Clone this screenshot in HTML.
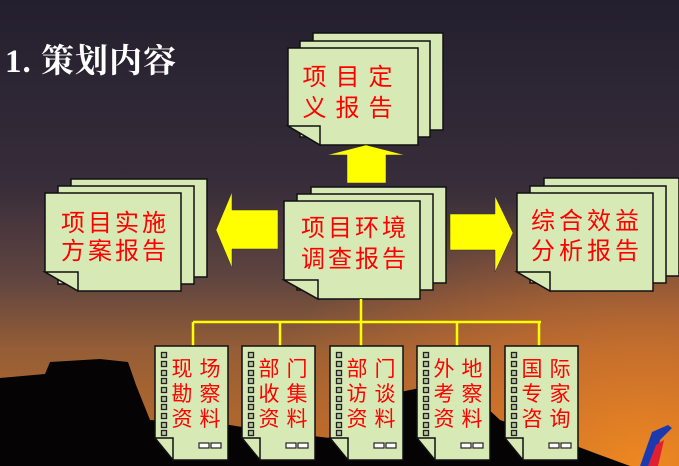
<!DOCTYPE html>
<html><head><meta charset="utf-8"><style>
html,body{margin:0;padding:0;width:679px;height:466px;overflow:hidden;background:#2a2533}
svg{display:block}
text{font-family:"Liberation Sans","Noto Sans CJK SC",sans-serif;fill:#ff0000}
</style></head><body>
<svg width="679" height="466" viewBox="0 0 679 466" xmlns="http://www.w3.org/2000/svg">
<defs>
<linearGradient id="bg" x1="0" y1="0" x2="0" y2="1">
<stop offset="0" stop-color="#231f2e"/>
<stop offset="0.4" stop-color="#382d3a"/>
<stop offset="0.6" stop-color="#604540"/>
<stop offset="0.75" stop-color="#955e36"/>
<stop offset="1" stop-color="#c06c28"/>
</linearGradient>
<radialGradient id="sun" cx="0.95" cy="1" r="0.6">
<stop offset="0" stop-color="#f08a20" stop-opacity="0.95"/>
<stop offset="0.5" stop-color="#d9742a" stop-opacity="0.6"/>
<stop offset="1" stop-color="#d9742a" stop-opacity="0"/>
</radialGradient>
</defs>
<rect width="679" height="466" fill="url(#bg)"/>
<rect width="679" height="466" fill="url(#sun)"/>
<path d="M0,378 L45,374 L50,362 L100,359 L128,362 L136,385 L150,420 L230,425 L260,430 L330,438 L360,410 L400,392 L430,386 L470,392 L500,420 L560,440 L600,455 L630,466 L0,466 Z" fill="#050303"/>
<path d="M640,466 L652,432 L668,425 L672,428 L660,440 L655,466 Z" fill="#1b3ab0"/>
<path d="M648,466 L656,445 L664,440 L658,466 Z" fill="#e02030"/>
<text x="5" y="72" style="font-family:'Liberation Serif','Noto Serif CJK SC',serif;font-weight:bold;font-size:33px;fill:#fff" letter-spacing="1">1. 策划内容</text>

<g stroke="#111" stroke-width="1.5" fill="#d7e9b5">
<rect x="313" y="33" width="130" height="97"/>
<rect x="300" y="41" width="130" height="96"/>
<path d="M288,48 H418 V145 H320 L288,126 Z"/><path d="M288,126 H320 V145 Z"/>
<rect x="311" y="187" width="135" height="96"/>
<rect x="297" y="194" width="136" height="96"/>
<path d="M284,201 H420 V299 H318 L284,280 Z"/><path d="M284,280 H318 V299 Z"/>
<rect x="71" y="179" width="136" height="98"/>
<rect x="58" y="186" width="136" height="98"/>
<path d="M45,193 H181 V291 H78 L45,272 Z"/><path d="M45,272 H78 V291 Z"/>
<rect x="544" y="178" width="135" height="98"/>
<rect x="530" y="186" width="136" height="97"/>
<path d="M517,193 H653 V291 H550 L517,272 Z"/><path d="M517,272 H550 V291 Z"/>
</g>

<g fill="#ffff00" stroke="#333" stroke-width="0.5">
<path d="M347,183 V155 H327 L366,145 L405,155 H386 V183 Z"/>
<path d="M278,210 V249 H232 V268 L216,230 L232,192 V210 Z"/>
<path d="M450,214 H495 V196 L513,233 L495,272 V250 H450 Z"/>
</g>

<g font-size="24">
<text x="352" y="85" text-anchor="middle" letter-spacing="9">项目定</text>
<text x="352" y="116" text-anchor="middle" letter-spacing="9">义报告</text>
<text x="355" y="236" text-anchor="middle" letter-spacing="3">项目环境</text>
<text x="355" y="267" text-anchor="middle" letter-spacing="3">调查报告</text>
<text x="115" y="231" text-anchor="middle" letter-spacing="3">项目实施</text>
<text x="115" y="259" text-anchor="middle" letter-spacing="3">方案报告</text>
<text x="587" y="229" text-anchor="middle" letter-spacing="4">综合效益</text>
<text x="587" y="259" text-anchor="middle" letter-spacing="4">分析报告</text>
</g>

<g stroke="#ffff00" stroke-width="2.5" fill="none">
<path d="M361,299 V322 M193,322 H541 M193,322 V346 M280,322 V346 M361,322 V346 M457,322 V346 M539,322 V346"/>
</g>

<g id="bd">
<g stroke="#111" stroke-width="1.5" fill="#d7e9b5">
<path d="M155,346 H228 V460 H173 L155,438 Z"/><path d="M155,438 H173 V460 Z"/>
</g>
<g fill="#fff" stroke="#222" stroke-width="1.2">
<rect x="199" y="443" width="10" height="5"/><rect x="211" y="443" width="10" height="5"/>
</g>
<g fill="#b8c8a0" stroke="#222" stroke-width="1.3">
<rect x="161.5" y="352.5" width="5" height="5"/><rect x="161.5" y="361.5" width="5" height="5"/><rect x="161.5" y="370.5" width="5" height="5"/><rect x="161.5" y="378.5" width="5" height="5"/><rect x="161.5" y="387.5" width="5" height="5"/><rect x="161.5" y="396.5" width="5" height="5"/><rect x="161.5" y="404.5" width="5" height="5"/><rect x="161.5" y="413.5" width="5" height="5"/><rect x="161.5" y="422.5" width="5" height="5"/><rect x="161.5" y="430.5" width="5" height="5"/>
</g>
</g>
<use href="#bd" x="87"/>
<use href="#bd" x="175"/>
<use href="#bd" x="262"/>
<use href="#bd" x="350"/>

<g font-size="21" text-anchor="middle">
<text x="182" y="376">现</text><text x="210" y="376">场</text>
<text x="182" y="401">勘</text><text x="210" y="401">察</text>
<text x="182" y="426">资</text><text x="210" y="426">料</text>
<text x="269" y="376">部</text><text x="297" y="376">门</text>
<text x="269" y="401">收</text><text x="297" y="401">集</text>
<text x="269" y="426">资</text><text x="297" y="426">料</text>
<text x="357" y="376">部</text><text x="385" y="376">门</text>
<text x="357" y="401">访</text><text x="385" y="401">谈</text>
<text x="357" y="426">资</text><text x="385" y="426">料</text>
<text x="444" y="376">外</text><text x="472" y="376">地</text>
<text x="444" y="401">考</text><text x="472" y="401">察</text>
<text x="444" y="426">资</text><text x="472" y="426">料</text>
<text x="532" y="376">国</text><text x="560" y="376">际</text>
<text x="532" y="401">专</text><text x="560" y="401">家</text>
<text x="532" y="426">咨</text><text x="560" y="426">询</text>
</g>
</svg>
</body></html>
